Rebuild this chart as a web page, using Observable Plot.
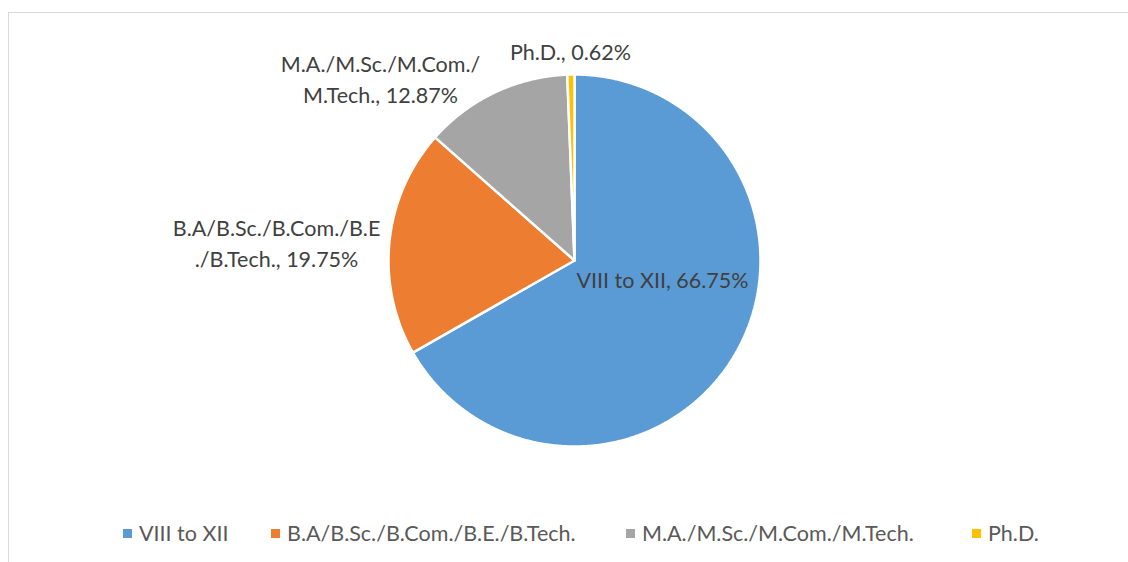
<!DOCTYPE html>
<html>
<head>
<meta charset="utf-8">
<script src="https://cdn.jsdelivr.net/npm/d3@7"></script>
<script src="https://cdn.jsdelivr.net/npm/@observablehq/plot@0.6"></script>
<style>
  html, body { margin: 0; padding: 0; background: #fff; overflow: hidden; }
  #wrap { position: relative; width: 1128px; height: 562px; overflow: hidden; }
  #frame { position: absolute; left: 8px; top: 12px; width: 1300px; height: 800px; border: 1px solid #d9d9d9; box-sizing: border-box; pointer-events: none; }
  #chart { position: absolute; left: 0; top: 0; }
  #legend { position: absolute; left: 0; top: 519px; width: 1128px; height: 28px; font-family: Lato, sans-serif; font-size: 21.5px; color: #595959; white-space: nowrap; }
  .item { position: absolute; top: 0; height: 28px; display: flex; align-items: center; gap: 7px; }
  .sw { width: 9px; height: 9px; display: inline-block; }
</style>
</head>
<body>
<div id="wrap">
  <div id="frame"></div>
  <div id="chart"></div>
  <div id="legend"></div>
</div>
<script>
const categories = ["VIII to XII", "B.A/B.Sc./B.Com./B.E./B.Tech.", "M.A./M.Sc./M.Com./M.Tech.", "Ph.D."];
const values = [66.75, 19.75, 12.87, 0.62];
const colors = ["#5B9BD5", "#ED7D31", "#A5A5A5", "#FFC000"];
const labelTexts = ["VIII to XII, 66.75%", "B.A/B.Sc./B.Com./B.E\n./B.Tech., 19.75%", "M.A./M.Sc./M.Com./\nM.Tech., 12.87%", "Ph.D., 0.62%"];
// label positions in pie-radius units (layout, not data)
const labelX = [0.473, -1.602, -1.043, -0.022];
const labelY = [-0.092, 0.102, 0.982, 1.13];
// legend item left edges in px (layout)
const legendLeft = [123, 271, 626, 972];

const table = categories.map((c, i) => ({category: c, value: values[i]}));
const arcs = d3.pie().sort(null).value(d => d.value)(table);

// slice outlines as polygons in unit-circle space (start at 12 o'clock, clockwise)
const poly = [];
arcs.forEach(a => {
  const c = a.data.category;
  poly.push({category: c, x: 0, y: 0});
  const n = Math.max(2, Math.ceil((a.endAngle - a.startAngle) / 0.005));
  for (let k = 0; k <= n; k++) {
    const t = a.startAngle + (a.endAngle - a.startAngle) * k / n;
    poly.push({category: c, x: Math.sin(t), y: Math.cos(t)});
  }
  poly.push({category: c, x: 0, y: 0});
});

const labels = categories.map((c, i) => ({category: c, text: labelTexts[i], x: labelX[i], y: labelY[i]}));

const chart = Plot.plot({
  width: 1128,
  height: 518,
  margin: 0,
  style: {background: "transparent"},
  x: {domain: [-1, 1], range: [388, 760], axis: null},
  y: {domain: [-1, 1], range: [446, 74], axis: null},
  color: {domain: categories, range: colors},
  marks: [
    Plot.line(poly, {x: "x", y: "y", z: "category", fill: "category", stroke: "white", strokeWidth: 2.5, strokeLinejoin: "miter", curve: "linear"}),
    Plot.text(labels, {x: "x", y: "y", text: "text", fill: "#404040", fontSize: 21.5, fontFamily: "Lato", lineHeight: 31 / 21.5, lineAnchor: "middle", textAnchor: "middle"})
  ]
});
document.getElementById("chart").appendChild(chart);

const legend = document.getElementById("legend");
categories.forEach((c, i) => {
  const it = document.createElement("div");
  it.className = "item";
  it.style.left = legendLeft[i] + "px";
  const sw = document.createElement("span");
  sw.className = "sw";
  sw.style.background = colors[i];
  const tx = document.createElement("span");
  tx.textContent = c;
  it.appendChild(sw);
  it.appendChild(tx);
  legend.appendChild(it);
});
</script>
</body>
</html>
